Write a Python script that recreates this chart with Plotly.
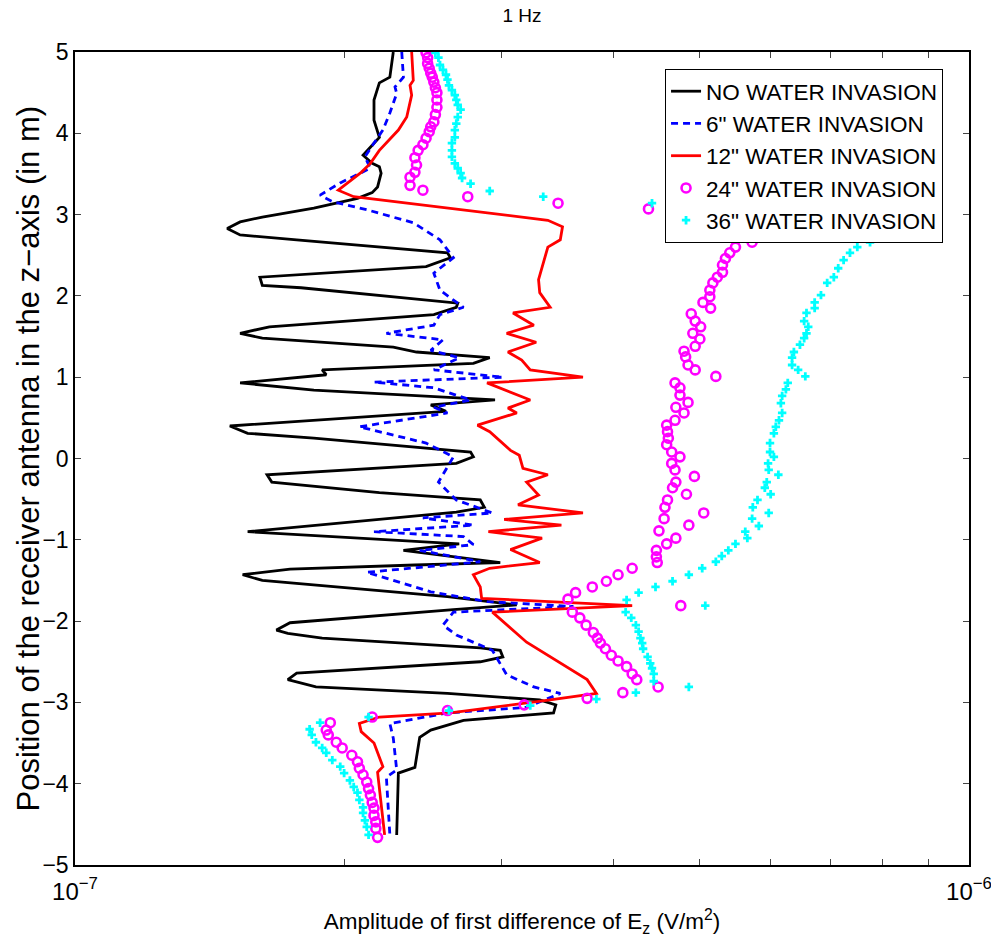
import numpy as np
import plotly.graph_objects as go

# amplitudes in units of 1e-7 V/m^2, positions in m
black_z = [5.0, 4.69, 4.62, 4.41, 4.16, 3.95, 3.73, 3.63, 3.59, 3.51, 3.34, 3.27, 3.20, 3.08, 2.97, 2.91, 2.83, 2.75,
           2.69, 2.53, 2.47, 2.36, 2.23, 2.13, 2.10, 1.91, 1.86, 1.77, 1.62, 1.54, 1.48, 1.37, 1.31, 1.24, 1.17, 1.09,
           1.03, 0.93, 0.84, 0.72, 0.66, 0.58, 0.40, 0.31, 0.25, 0.08, 0.02, -0.06, -0.20, -0.29, -0.42, -0.51, -0.60,
           -0.66, -0.90, -1.05, -1.13, -1.28, -1.31, -1.36, -1.43, -1.50, -1.70, -1.80, -1.86, -2.02, -2.11, -2.15,
           -2.21, -2.33, -2.36, -2.44, -2.50, -2.64, -2.72, -2.81, -2.89, -2.97, -3.03, -3.13, -3.22, -3.34, -3.43,
           -3.80, -3.87, -4.63]
black_amp = [2.27, 2.25, 2.19, 2.16, 2.16, 2.19, 2.10, 2.15, 2.19, 2.20, 2.18, 2.15, 2.07, 1.85, 1.62, 1.53, 1.48, 1.53,
             1.77, 2.61, 2.63, 2.47, 1.61, 1.62, 1.79, 2.68, 2.67, 2.52, 1.65, 1.53, 1.62, 2.27, 2.41, 2.91, 2.79, 1.89,
             1.91, 1.53, 1.85, 2.95, 2.50, 2.60, 1.49, 1.56, 1.85, 2.77, 2.79, 2.67, 1.64, 1.66, 2.19, 2.84, 2.87,
             2.67, 1.56, 2.69, 2.33, 2.99, 2.40, 1.74, 1.54, 1.62, 2.61, 3.12, 2.65, 1.74, 1.68, 1.73,
             1.89, 2.84, 2.99, 3.01, 2.84, 1.77, 1.73, 1.86, 2.61, 3.31, 3.45, 3.43, 2.72, 2.50, 2.43,
             2.40, 2.30, 2.29]

blue_z = [5.0, 4.69, 4.57, 4.49, 4.25, 4.04, 3.88, 3.71, 3.57, 3.49, 3.39, 3.24, 3.16, 3.06, 2.90, 2.69, 2.47, 2.28,
          2.07, 1.86, 1.77, 1.64, 1.54, 1.46, 1.33, 1.24, 1.09, 1.00, 0.94, 0.87, 0.72, 0.63, 0.56, 0.39, 0.33, 0.19,
          0.02, -0.29, -0.51, -0.67, -0.73, -0.82, -0.90, -0.96, -1.06, -1.13, -1.27, -1.40, -1.64, -1.76, -1.82,
          -1.89, -2.05, -2.17, -2.36, -2.52, -2.66, -2.81, -2.89, -3.06, -3.13, -3.26, -3.44, -3.83, -3.92, -4.63]
blue_amp = [2.32, 2.33, 2.28, 2.29, 2.25, 2.21, 2.16, 2.11, 2.14, 2.07, 1.98, 1.88, 1.94, 2.12, 2.39, 2.56, 2.65, 2.52,
            2.56, 2.72, 2.56, 2.52, 2.23, 2.58, 2.50, 2.69, 2.52, 3.01, 2.16, 2.52, 2.77, 2.52, 2.61, 2.08, 2.19, 2.47,
            2.65, 2.55, 2.67, 2.93, 2.45, 2.79, 2.16, 2.72, 2.79, 2.43, 2.84, 2.12, 2.50, 2.89, 3.61,
            2.65, 2.58, 2.67, 2.93, 2.99, 3.04, 3.26, 3.49, 3.20, 2.61, 2.25, 2.27, 2.29, 2.23, 2.25]

red_z = [5.0, 4.65, 4.59, 4.47, 4.20, 4.04, 3.79, 3.63, 3.52, 3.30, 3.22, 2.93, 2.85, 2.69, 2.60, 2.36, 2.20, 2.04,
         1.86, 1.79, 1.64, 1.54, 1.43, 1.31, 1.21, 1.09, 1.00, 0.93, 0.72, 0.62, 0.56, 0.41, 0.33, 0.10, 0.04, -0.12,
         -0.20, -0.29, -0.45, -0.57, -0.67, -0.75, -0.82, -0.90, -0.98, -1.12, -1.28, -1.35, -1.43, -1.58, -1.72,
         -1.81, -1.89, -2.26, -2.52, -2.72, -2.89, -2.97, -3.13, -3.18, -3.26, -3.36, -3.50, -3.79, -3.86, -4.63]
red_amp = [2.38, 2.39, 2.37, 2.38, 2.35, 2.30, 2.19, 2.14, 2.09, 1.97, 2.05, 3.38, 3.51, 3.49, 3.38, 3.33, 3.30, 3.31,
           3.40, 3.09, 3.26, 3.04, 3.28, 3.05, 3.16, 3.23, 3.70, 2.89, 3.23, 3.05, 3.12, 2.82, 2.91, 3.07, 3.14, 3.17,
           3.38, 3.20, 3.30, 3.13, 3.70, 3.02, 3.50, 2.90, 3.33, 3.07, 3.31, 2.91, 2.79, 2.84, 2.85,
           4.20, 2.93, 3.20, 3.49, 3.74, 3.83, 3.40, 2.63, 2.19, 2.08, 2.09, 2.16, 2.21, 2.18, 2.22]

mag_z = [4.99, 4.93, 4.86, 4.80, 4.74, 4.69, 4.63, 4.56, 4.50, 4.41, 4.32, 4.23, 4.14, 4.08, 4.02, 3.94, 3.86, 3.79,
         3.70, 3.61, 3.52, 3.46, 3.36, 3.30, 3.22, 3.14, 3.07,
         2.66, 2.60, 2.53, 2.46, 2.38, 2.29, 2.23, 2.16, 2.07, 1.99, 1.92, 1.85, 1.78, 1.69, 1.62, 1.54, 1.47, 1.38,
         1.32, 1.25, 1.15, 1.09, 1.01, 0.93, 0.87, 0.78, 0.69, 0.63, 0.56, 0.47, 0.41, 0.33, 0.25, 0.17, 0.08, 0.02,
         -0.06, -0.14, -0.22, -0.29, -0.36, -0.44, -0.51, -0.60, -0.67, -0.74, -0.82, -0.89, -0.98, -1.05, -1.13,
         -1.21, -1.28, -1.35, -1.43, -1.51, -1.58, -1.65, -1.73, -1.81, -1.89, -1.96, -2.05, -2.14, -2.21, -2.27,
         -2.34, -2.42, -2.49, -2.56, -2.65, -2.72, -2.81, -2.88, -2.95, -3.03, -3.10, -3.18, -3.25, -3.34, -3.40,
         -3.49, -3.56, -3.65, -3.73, -3.81, -3.89, -3.98, -4.06, -4.14, -4.23, -4.30, -4.39, -4.47, -4.55, -4.66]
mag_amp = [2.47, 2.48, 2.48, 2.49, 2.50, 2.51, 2.52, 2.53, 2.54, 2.54, 2.54, 2.53, 2.52, 2.50, 2.49, 2.47, 2.45, 2.42,
           2.40, 2.41, 2.40, 2.37, 2.37, 2.45, 2.75, 3.47, 4.38,
           5.72, 5.48, 5.40, 5.34, 5.30, 5.30, 5.23, 5.17, 5.13, 5.13, 5.04, 5.14, 4.89, 4.94, 5.01, 4.91, 5.00, 4.94,
           4.80, 4.82, 4.85, 4.94, 5.21, 4.69, 4.75, 4.75, 4.85, 4.70, 4.80, 4.69, 4.59, 4.60, 4.61, 4.59, 4.65, 4.75,
           4.65, 4.69, 4.93, 4.70, 4.66, 4.83, 4.60, 4.57, 5.05, 4.56, 4.86, 4.50, 4.70, 4.59, 4.47,
           4.47, 4.48, 4.20, 4.05, 3.93, 3.79, 3.63, 3.56, 4.76, 3.60, 3.67, 3.73, 3.80, 3.84, 3.87,
           3.92, 3.98, 4.05, 4.14, 4.20, 4.25, 4.49, 4.10, 3.74, 3.18, 2.61, 2.15, 1.93, 1.91, 1.92,
           1.96, 1.99, 2.04, 2.07, 2.08, 2.10, 2.12, 2.13, 2.14, 2.15, 2.16, 2.16, 2.17, 2.17, 2.18]

cyan_z = [4.99, 4.93, 4.84, 4.78, 4.72, 4.66, 4.59, 4.53, 4.47, 4.41, 4.35, 4.29, 4.20, 4.12, 4.04, 3.95, 3.88, 3.79,
          3.71, 3.63, 3.57, 3.51, 3.45, 3.38, 3.29, 3.22, 3.14,
          2.66, 2.60, 2.53, 2.44, 2.34, 2.23, 2.16, 2.01, 1.92, 1.85, 1.79, 1.69, 1.62, 1.54, 1.48, 1.40, 1.31, 1.24,
          1.15, 1.09, 1.01, 0.93, 0.85, 0.77, 0.68, 0.56, 0.47, 0.39, 0.31, 0.19, 0.08, 0.02, -0.06, -0.14, -0.20,
          -0.29, -0.36, -0.44, -0.51, -0.60, -0.67, -0.74, -0.83, -0.90, -0.98, -1.05, -1.13, -1.20, -1.27, -1.35,
          -1.43, -1.51, -1.58, -1.65, -1.74, -1.81, -1.89, -1.96, -2.05, -2.13, -2.21, -2.27, -2.34, -2.44, -2.52,
          -2.58, -2.65, -2.74, -2.81, -2.88, -2.96, -3.04, -3.10, -3.18, -3.25, -3.33, -3.40, -3.49, -3.56, -3.62,
          -3.71, -3.79, -3.87, -3.96, -4.04, -4.11, -4.20, -4.29, -4.36, -4.45, -4.53, -4.63]
cyan_amp = [2.53, 2.55, 2.56, 2.58, 2.60, 2.61, 2.62, 2.64, 2.66, 2.67, 2.68, 2.70, 2.68, 2.67, 2.66, 2.66, 2.64, 2.64,
            2.64, 2.66, 2.68, 2.70, 2.71, 2.77, 2.91, 3.34, 4.42,
            7.75, 7.50, 7.36, 7.24, 7.14, 7.06, 6.94, 6.83, 6.72, 6.72, 6.58, 6.54, 6.61, 6.58, 6.54, 6.47, 6.37, 6.34,
            6.34, 6.44, 6.56, 6.27, 6.24, 6.18, 6.16, 6.18, 6.13, 6.08, 6.05, 5.99, 5.99, 6.05, 5.96, 5.97, 6.12,
            5.94, 5.91, 6.00, 5.80, 5.73, 5.97, 5.72, 5.82, 5.62, 5.65, 5.48, 5.38, 5.29, 5.21, 5.03,
            4.86, 4.66, 4.46, 4.27, 4.14, 5.07, 4.13, 4.19, 4.24, 4.27, 4.29, 4.31, 4.32, 4.37, 4.40,
            4.42, 4.44, 4.44, 4.86, 4.24, 3.83, 3.23, 2.62, 2.13, 1.88, 1.83, 1.84, 1.86, 1.89, 1.91,
            1.94, 1.98, 2.00, 2.03, 2.05, 2.07, 2.08, 2.10, 2.10, 2.11, 2.12, 2.13]

names = ["NO WATER INVASION", "6\" WATER INVASION", "12\" WATER INVASION",
         "24\" WATER INVASION", "36\" WATER INVASION"]
scale = 1e-7
x_tick_vals = [1e-7, 2e-7, 3e-7, 4e-7, 5e-7, 6e-7, 7e-7, 8e-7, 9e-7, 1e-6]
x_tick_text = ["10<sup>−7</sup>", " ", " ", " ", " ", " ", " ", " ", " ", "10<sup>−6</sup>"]

fig = go.Figure()
fig.add_trace(go.Scatter(x=np.array(black_amp) * scale, y=black_z, mode="lines", name=names[0],
                         line=dict(color="#000000", width=2.8)))
fig.add_trace(go.Scatter(x=np.array(blue_amp) * scale, y=blue_z, mode="lines", name=names[1],
                         line=dict(color="#0000ff", width=2.8, dash="7px,5px")))
fig.add_trace(go.Scatter(x=np.array(red_amp) * scale, y=red_z, mode="lines", name=names[2],
                         line=dict(color="#ff0000", width=2.8)))
fig.add_trace(go.Scatter(x=np.array(mag_amp) * scale, y=mag_z, mode="markers", name=names[3],
                         marker=dict(symbol="circle-open", size=9, color="#ff00ff",
                                     line=dict(width=2.6, color="#ff00ff"))))
fig.add_trace(go.Scatter(x=np.array(cyan_amp) * scale, y=cyan_z, mode="markers", name=names[4],
                         marker=dict(symbol="cross", size=7, color="#00ffff", line=dict(width=0))))

font_family = "Liberation Sans, Arial, sans-serif"
eps = 1e-6

fig.update_layout(
    width=991, height=941,
    margin=dict(l=75, r=22, t=52, b=76, autoexpand=False),
    plot_bgcolor="white", paper_bgcolor="white",
    font=dict(family=font_family, color="black", size=20),
    title=dict(text="1 Hz", x=0.5, xanchor="center", xref="paper", y=0.984, yref="container", yanchor="middle",
               font=dict(size=19, family=font_family, color="black")),
    showlegend=True,
    legend=dict(x=0.66, xanchor="left", y=0.979, yanchor="top", bgcolor="white",
                bordercolor="black", borderwidth=1, font=dict(size=22.5), tracegroupgap=0),
    xaxis=dict(type="log", range=[-7 - eps, -6 + eps], tickvals=x_tick_vals, ticktext=x_tick_text, ticks="inside",
               ticklen=6, ticklabelstandoff=4, ticklabeloverflow="allow",
               showline=True, linecolor="black", linewidth=1.5, mirror="ticks", showgrid=False, zeroline=False,
               tickfont=dict(size=24), automargin=False,
               title=dict(text="Amplitude of first difference of E<sub>z</sub> (V/m<sup>2</sup>)",
                          font=dict(size=22.5), standoff=10)),
    yaxis=dict(range=[-5, 5], dtick=1, ticks="inside", ticklen=6, showline=True, linecolor="black", linewidth=1.5,
               mirror="ticks", showgrid=False, zeroline=False, tickfont=dict(size=23), automargin=False,
               ticklabeloverflow="allow"),
    annotations=[dict(text="Position of the receiver antenna in the z−axis (in m)", textangle=-90,
                      xref="paper", yref="paper", x=-47 / 894, y=0.5, xanchor="center", yanchor="middle",
                      showarrow=False, font=dict(size=31, family=font_family, color="black"))],
)

fig.write_html("out.html", config={"displayModeBar": False},
               post_script="document.body.style.margin='0px';document.body.style.padding='0px';")
